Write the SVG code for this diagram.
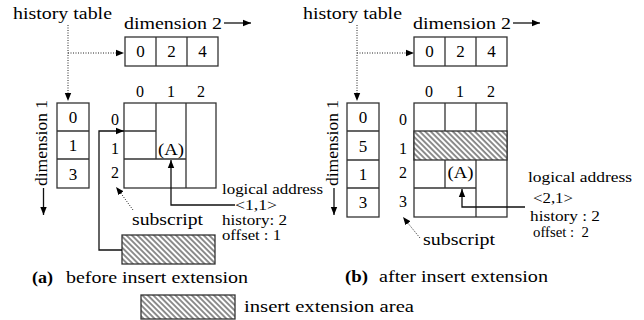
<svg xmlns="http://www.w3.org/2000/svg" width="644" height="320" viewBox="0 0 644 320" font-family="'Liberation Serif', 'Times New Roman', serif">
<style>
text{font-family:'Liberation Serif','Times New Roman',serif;font-size:16px;fill:#000}
.d{font-size:17px;text-anchor:middle}
.c{text-anchor:middle}
.b{font-weight:bold}
.s{font-size:14px}
.box{fill:#fff;stroke:#333;stroke-width:1.3}
.ln{fill:none;stroke:#333;stroke-width:1.3}
.hatch{fill:url(#hp);stroke:#333;stroke-width:1.3}
.dot{fill:none;stroke:#222;stroke-width:1;stroke-dasharray:1 1.5}
.arr{fill:none;stroke:#111;stroke-width:1.3;marker-end:url(#ah)}
</style>
<defs>
<marker id="ah" viewBox="0 0 10 10" refX="10" refY="5" markerWidth="8" markerHeight="8" markerUnits="userSpaceOnUse" orient="auto"><path d="M0,1 L10,5 L0,9 z" fill="#000"/></marker>
<pattern id="hp" patternUnits="userSpaceOnUse" width="3.9" height="10" patternTransform="rotate(-45)"><rect width="3.9" height="10" fill="#fff"/><line x1="1" y1="0" x2="1" y2="10" stroke="#000" stroke-width="0.9"/></pattern>
</defs>

<g id="panel-a">
  <g id="a-history-label"><text x="13" y="19" textLength="99" lengthAdjust="spacingAndGlyphs">history table</text></g>
  <g id="a-dim2-label"><text x="124" y="29" textLength="98" lengthAdjust="spacingAndGlyphs">dimension 2</text></g>
  <g id="a-dim2-table">
    <rect class="box" x="125" y="37" width="93" height="29"/>
    <path class="ln" d="M156,37 V66 M187,37 V66"/>
    <text class="d" x="140.5" y="57">0</text>
    <text class="d" x="171.5" y="57">2</text>
    <text class="d" x="202.5" y="57">4</text>
  </g>
  <g id="a-dim1-label"><text transform="translate(47,186) rotate(-90)" textLength="86" lengthAdjust="spacingAndGlyphs">dimension 1</text></g>
  <g id="a-dim1-table">
    <rect class="box" x="57" y="103" width="32" height="85"/>
    <path class="ln" d="M57,131 H89 M57,159 H89"/>
    <text class="d" x="73" y="123">0</text>
    <text class="d" x="73" y="151">1</text>
    <text class="d" x="73" y="180">3</text>
  </g>
  <g id="a-col-labels">
    <text class="c" x="140" y="97">0</text>
    <text class="c" x="171" y="97">1</text>
    <text class="c" x="201" y="97">2</text>
  </g>
  <g id="a-row-labels">
    <text class="c" x="115" y="125">0</text>
    <text class="c" x="115" y="154">1</text>
    <text class="c" x="115" y="178">2</text>
  </g>
  <g id="a-grid">
    <rect class="box" x="124" y="103" width="92" height="85"/>
    <path class="ln" d="M156,103 V159 M186,103 V188 M124,131 H156 M124,159 H186"/>
    <text class="c" x="171" y="155" textLength="26" lengthAdjust="spacingAndGlyphs">(A)</text>
  </g>
  <g id="a-logical">
    <text class="s" x="222" y="194" textLength="101" lengthAdjust="spacingAndGlyphs">logical address</text>
    <text class="s" x="235" y="210" textLength="42" lengthAdjust="spacingAndGlyphs">&lt;1,1&gt;</text>
    <text class="s" x="222" y="225" textLength="65" lengthAdjust="spacingAndGlyphs">history: 2</text>
    <text class="s" x="222" y="240" textLength="59" lengthAdjust="spacingAndGlyphs">offset : 1</text>
  </g>
  <g id="a-subscript"><text x="132" y="225" textLength="71" lengthAdjust="spacingAndGlyphs">subscript</text></g>
  <g id="a-insert"><rect class="hatch" x="122" y="235" width="93" height="29"/></g>
  <g id="a-caption">
    <text class="b" x="32" y="283" textLength="21" lengthAdjust="spacingAndGlyphs">(a)</text>
    <text x="66" y="283" textLength="182" lengthAdjust="spacingAndGlyphs">before insert extension</text>
  </g>
</g>

<g id="panel-b">
  <g id="b-history-label"><text x="303" y="19" textLength="99" lengthAdjust="spacingAndGlyphs">history table</text></g>
  <g id="b-dim2-label"><text x="413" y="29" textLength="98" lengthAdjust="spacingAndGlyphs">dimension 2</text></g>
  <g id="b-dim2-table">
    <rect class="box" x="414" y="37" width="93" height="29"/>
    <path class="ln" d="M445,37 V66 M476,37 V66"/>
    <text class="d" x="429.5" y="57">0</text>
    <text class="d" x="460.5" y="57">2</text>
    <text class="d" x="491.5" y="57">4</text>
  </g>
  <g id="b-dim1-label"><text transform="translate(338,186) rotate(-90)" textLength="86" lengthAdjust="spacingAndGlyphs">dimension 1</text></g>
  <g id="b-dim1-table">
    <rect class="box" x="347" y="103" width="32" height="114"/>
    <path class="ln" d="M347,131 H379 M347,160 H379 M347,188 H379"/>
    <text class="d" x="363" y="123">0</text>
    <text class="d" x="363" y="152">5</text>
    <text class="d" x="363" y="180">1</text>
    <text class="d" x="363" y="208">3</text>
  </g>
  <g id="b-col-labels">
    <text class="c" x="429" y="97">0</text>
    <text class="c" x="460" y="97">1</text>
    <text class="c" x="491" y="97">2</text>
  </g>
  <g id="b-row-labels">
    <text class="c" x="403" y="125">0</text>
    <text class="c" x="403" y="154">1</text>
    <text class="c" x="403" y="178">2</text>
    <text class="c" x="403" y="207">3</text>
  </g>
  <g id="b-grid">
    <rect class="box" x="414" y="103" width="93" height="114"/>
    <rect class="hatch" x="414" y="131" width="93" height="29"/>
    <path class="ln" d="M445,103 V131 M476,103 V131 M445,160 V188 M476,160 V217 M414,188 H476"/>
    <text class="c" x="460.5" y="178" textLength="26" lengthAdjust="spacingAndGlyphs">(A)</text>
  </g>
  <g id="b-logical">
    <text class="s" x="528" y="182" textLength="104" lengthAdjust="spacingAndGlyphs">logical address</text>
    <text class="s" x="533" y="203" textLength="40" lengthAdjust="spacingAndGlyphs">&lt;2,1&gt;</text>
    <text class="s" x="530" y="221" textLength="70" lengthAdjust="spacingAndGlyphs">history : 2</text>
    <text class="s" x="533" y="237" textLength="56" lengthAdjust="spacingAndGlyphs">offset :&#160; 2</text>
  </g>
  <g id="b-subscript"><text x="423" y="245" textLength="72" lengthAdjust="spacingAndGlyphs">subscript</text></g>
  <g id="b-caption">
    <text class="b" x="345" y="282" textLength="23" lengthAdjust="spacingAndGlyphs">(b)</text>
    <text x="379" y="282" textLength="169" lengthAdjust="spacingAndGlyphs">after insert extension</text>
  </g>
</g>

<g id="legend">
  <rect class="hatch" x="141" y="295" width="94" height="24"/>
  <text x="244" y="312" textLength="170" lengthAdjust="spacingAndGlyphs">insert extension area</text>
</g>

<g id="connectors">
  <path class="arr" d="M224,23 H251"/>
  <path class="arr" d="M513,23 H540"/>
  <path class="arr" d="M43.5,188 V215"/>
  <path class="arr" d="M334,188 V215"/>
  <path class="dot" d="M68,25 V94 M68,53 H117"/>
  <path class="arr" d="M68,93 V101" style="stroke:none"/>
  <path class="arr" d="M117,53 H124" style="stroke:none"/>
  <path class="dot" d="M357,25 V94 M357,53 H407"/>
  <path class="arr" d="M357,93 V101" style="stroke:none"/>
  <path class="arr" d="M407,53 H414" style="stroke:none"/>
  <path class="arr" d="M122,250 H99 V131 H124"/>
  <path class="arr" d="M235,205 H171 V160"/>
  <path class="arr" d="M525,207 H462 V189"/>
  <path class="dot" d="M133,210 L120,192"/>
  <path class="arr" d="M120,192 L116,187" style="stroke:none"/>
  <path class="dot" d="M420,238 L407,222"/>
  <path class="arr" d="M407,222 L403,217" style="stroke:none"/>
</g>
</svg>
